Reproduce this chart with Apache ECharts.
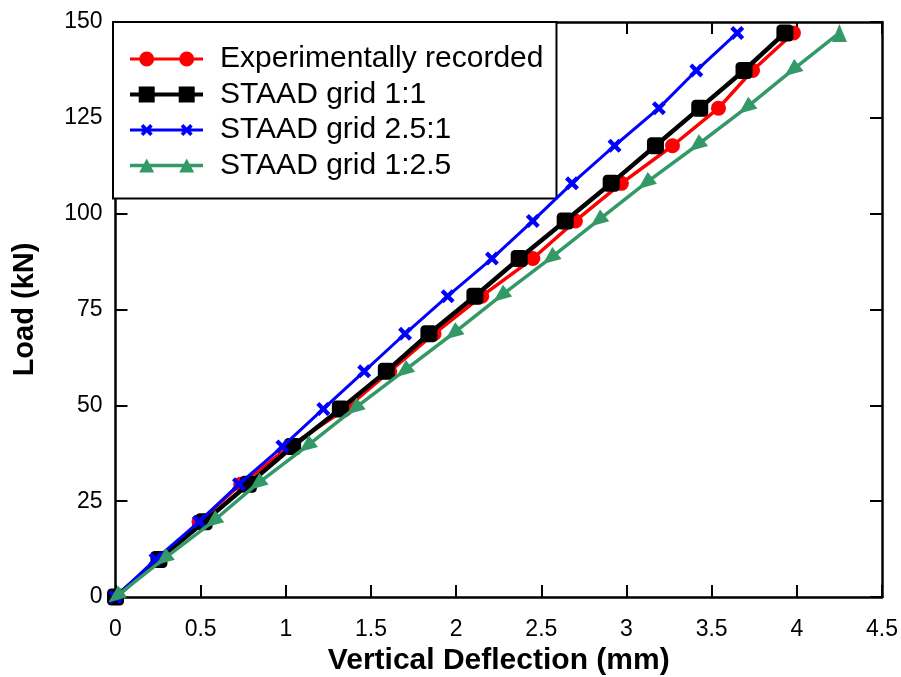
<!DOCTYPE html>
<html>
<head>
<meta charset="utf-8">
<script src="https://cdn.jsdelivr.net/npm/echarts@6/dist/echarts.min.js"></script>
<style>
html,body{margin:0;padding:0;background:#fff;}
#chart{width:901px;height:677px;}
</style>
</head>
<body>
<div id="chart"></div>
<script>
// ---- data ----
const seriesNames = ['Experimentally recorded', 'STAAD grid 1:1', 'STAAD grid 2.5:1', 'STAAD grid 1:2.5'];
const loads = [0, 9.81, 19.62, 29.43, 39.24, 49.05, 58.86, 68.67, 78.48, 88.29, 98.1, 107.91, 117.72, 127.53, 137.34, 147.15];
const expRecorded = [0, 0.26, 0.49, 0.735, 1.02, 1.35, 1.61, 1.87, 2.15, 2.45, 2.70, 2.97, 3.27, 3.54, 3.74, 3.98];
const grid11 = [0, 0.255, 0.52, 0.78, 1.04, 1.32, 1.59, 1.84, 2.11, 2.37, 2.64, 2.91, 3.17, 3.43, 3.69, 3.93];
const grid251 = [0, 0.235, 0.49, 0.725, 0.98, 1.22, 1.46, 1.70, 1.95, 2.21, 2.45, 2.68, 2.93, 3.19, 3.41, 3.65];
const grid125 = [0, 0.28, 0.57, 0.83, 1.12, 1.40, 1.69, 1.98, 2.26, 2.55, 2.83, 3.11, 3.41, 3.70, 3.97, 4.25];
const xAxisTitle = 'Vertical Deflection (mm)';
const yAxisTitle = 'Load (kN)';

// ---- styling ----
const FONT = "'Liberation Sans', Arial, Helvetica, sans-serif";
const colors = ['#ff0000', '#000000', '#0000ff', '#339966'];
const xSymbol = 'path://M0 2.6L2.6 0L6 3.4L9.4 0L12 2.6L8.6 6L12 9.4L9.4 12L6 8.6L2.6 12L0 9.4L3.4 6Z';

const legendIcons = [
  'path://M0 6.5L73 6.5L73 9.5L0 9.5Z M9.2 8A7.5 7.5 0 1 1 24.2 8A7.5 7.5 0 1 1 9.2 8Z M49.2 8A7.5 7.5 0 1 1 64.2 8A7.5 7.5 0 1 1 49.2 8Z',
  'path://M0 6L73 6L73 10L0 10Z M8.7 0L24.7 0L24.7 16L8.7 16Z M48.7 0L64.7 0L64.7 16L48.7 16Z',
  'path://M0 6.5L73 6.5L73 9.5L0 9.5Z M10.7 4.6L13.3 2L16.7 5.4L20.1 2L22.7 4.6L19.3 8L22.7 11.4L20.1 14L16.7 10.6L13.3 14L10.7 11.4L14.1 8Z M50.7 4.6L53.3 2L56.7 5.4L60.1 2L62.7 4.6L59.3 8L62.7 11.4L60.1 14L56.7 10.6L53.3 14L50.7 11.4L54.1 8Z',
  'path://M0 6.3L73 6.3L73 9.7L0 9.7Z M9.2 15L16.7 1L24.2 15Z M49.2 15L56.7 1L64.2 15Z'
];

function pairs(xs) { return xs.map((x, i) => [x, loads[i]]); }

const chart = echarts.init(document.getElementById('chart'), null, {renderer: 'canvas'});

const axisLineStyle = {color: '#000', width: 2.5};
const tickStyle = {show: true, inside: true, length: 12, lineStyle: {color: '#000', width: 2}};

const option = {
  backgroundColor: '#fff',
  animation: false,
  textStyle: {fontFamily: FONT},
  grid: {left: 115.5, right: 19, top: 22, bottom: 80, containLabel: false, outerBoundsMode: 'none'},
  legend: {
    orient: 'vertical',
    left: 113, top: 22,
    padding: [22, 13, 18, 17],
    itemGap: 5.5,
    itemWidth: 73,
    itemHeight: 16,
    backgroundColor: '#fff',
    borderColor: '#000',
    borderWidth: 2,
    borderRadius: 0,
    textStyle: {fontSize: 30, lineHeight: 30, color: '#000', fontFamily: FONT, padding: [0, 0, 0, 12]},
    data: seriesNames.map((n, i) => ({name: n, icon: legendIcons[i]}))
  },
  xAxis: [
    {
      type: 'value', min: 0, max: 4.5, interval: 0.5, position: 'bottom',
      axisLine: {show: true, onZero: false, lineStyle: axisLineStyle},
      axisTick: tickStyle,
      axisLabel: {fontSize: 23, color: '#000', margin: 21, fontFamily: FONT},
      splitLine: {show: false},
      name: xAxisTitle, nameLocation: 'middle', nameGap: 33,
      nameTextStyle: {fontSize: 30, fontWeight: 'bold', color: '#000', fontFamily: FONT}
    },
    {
      type: 'value', min: 0, max: 4.5, interval: 0.5, position: 'top',
      axisLine: {show: true, onZero: false, lineStyle: axisLineStyle},
      axisTick: tickStyle,
      axisLabel: {show: false},
      splitLine: {show: false}
    }
  ],
  yAxis: [
    {
      type: 'value', min: 0, max: 150, interval: 25, position: 'left',
      axisLine: {show: true, onZero: false, lineStyle: axisLineStyle},
      axisTick: tickStyle,
      axisLabel: {fontSize: 23, color: '#000', margin: 13, fontFamily: FONT, padding: [8, 0, 0, 0]},
      splitLine: {show: false},
      name: yAxisTitle, nameLocation: 'middle', nameGap: 76, nameRotate: 90,
      nameTextStyle: {fontSize: 29, fontWeight: 'bold', color: '#000', fontFamily: FONT}
    },
    {
      type: 'value', min: 0, max: 150, interval: 25, position: 'right',
      axisLine: {show: true, onZero: false, lineStyle: axisLineStyle},
      axisTick: tickStyle,
      axisLabel: {show: false},
      splitLine: {show: false}
    }
  ],
  series: [
    {
      name: seriesNames[0], type: 'line', data: pairs(expRecorded),
      symbol: 'circle', symbolSize: 15,
      lineStyle: {color: colors[0], width: 3.5}, itemStyle: {color: colors[0]}, z: 2
    },
    {
      name: seriesNames[1], type: 'line', data: pairs(grid11),
      symbol: 'roundRect', symbolSize: 17,
      lineStyle: {color: colors[1], width: 4.5}, itemStyle: {color: colors[1]}, z: 3
    },
    {
      name: seriesNames[2], type: 'line', data: pairs(grid251),
      symbol: xSymbol, symbolSize: 14,
      lineStyle: {color: colors[2], width: 3}, itemStyle: {color: colors[2]}, z: 4
    },
    {
      name: seriesNames[3], type: 'line',
      data: pairs(grid125).map((p, i, arr) => ({value: p, symbolRotate: i === arr.length - 1 ? 0 : 128})),
      symbol: 'triangle', symbolSize: [15, 18],
      lineStyle: {color: colors[3], width: 3.5}, itemStyle: {color: colors[3]}, z: 5
    }
  ]
};
chart.setOption(option);
</script>
</body>
</html>
